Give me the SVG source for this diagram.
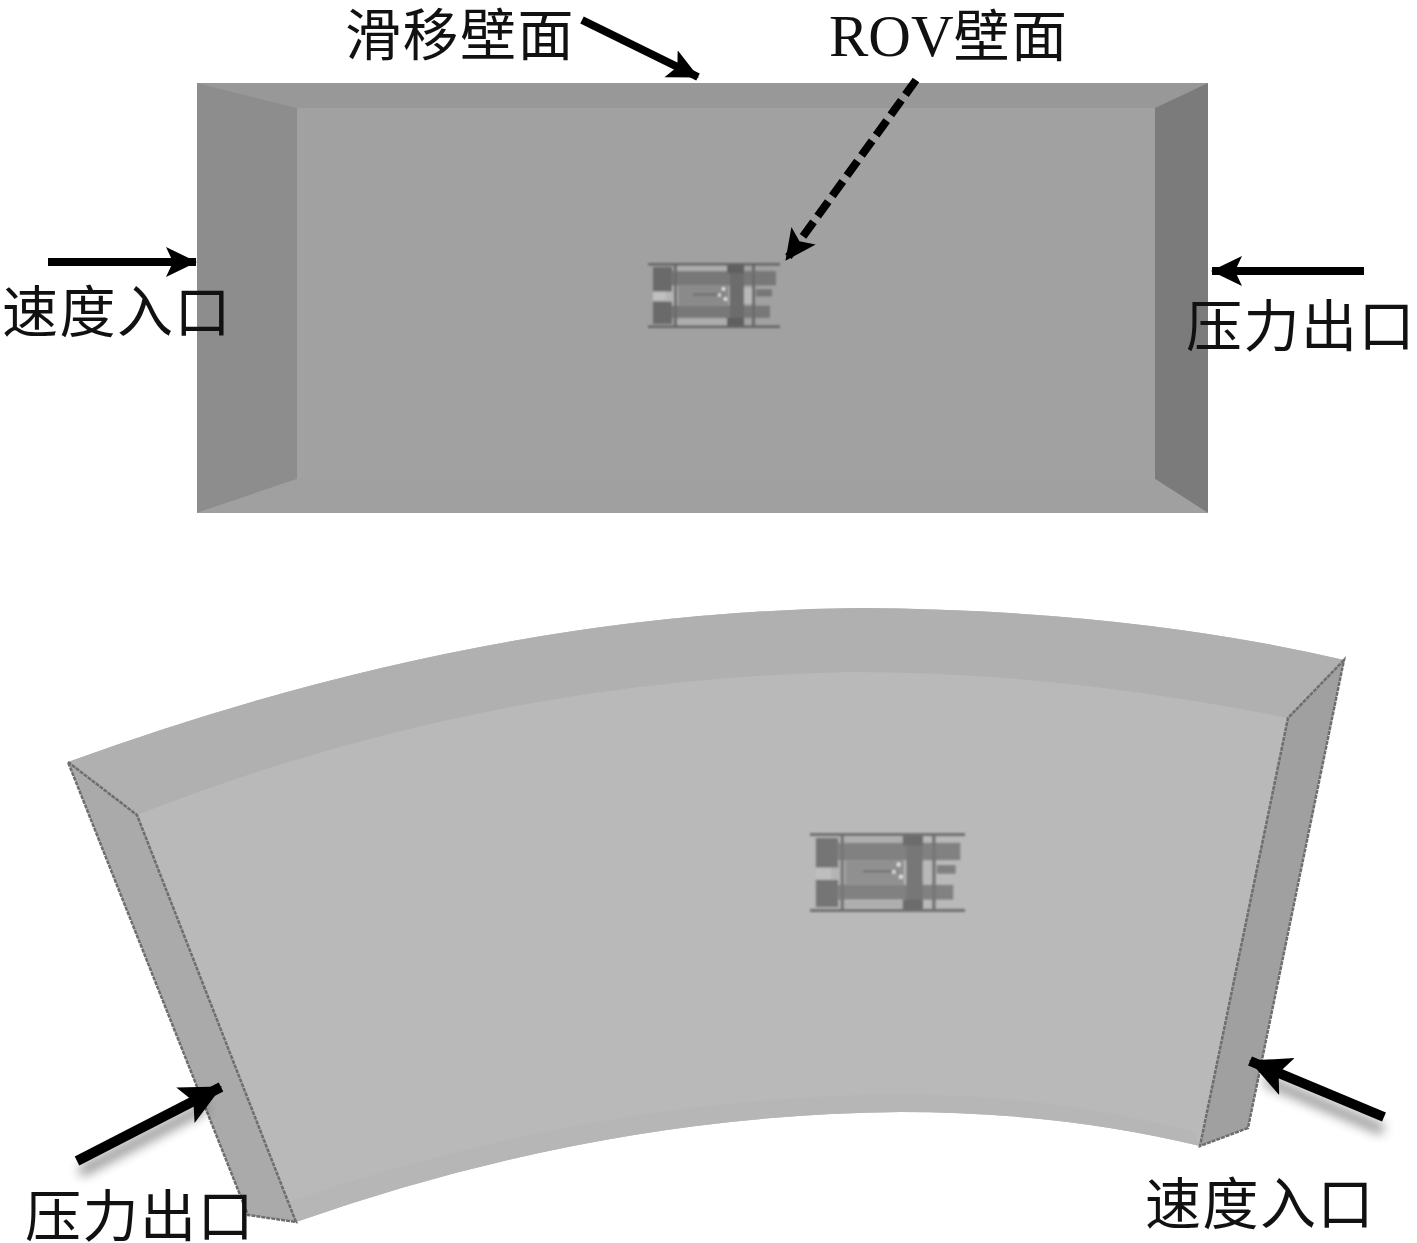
<svg xmlns="http://www.w3.org/2000/svg" width="1417" height="1243" viewBox="0 0 1417 1243">
<style>
.t{font-family:"Noto Sans CJK SC","Liberation Serif",serif;font-size:56px;letter-spacing:1.5px;fill:#111}
.r{font-family:"Liberation Serif",serif;font-size:59px;fill:#111}
.a{fill:none;stroke:#000;stroke-width:8;marker-end:url(#h)}
.b{fill:none;stroke:#000;stroke-width:10;marker-end:url(#k)}
.e{fill:none;stroke:#6e6e6e;stroke-width:2.5;stroke-dasharray:4 1}
</style>
<defs>
<marker id="h" markerUnits="userSpaceOnUse" markerWidth="34" markerHeight="32" refX="30" refY="15" orient="auto"><path d="M0 0L31 15L0 30L7 15Z" fill="#000"/></marker>
<marker id="k" markerUnits="userSpaceOnUse" markerWidth="44" markerHeight="42" refX="40" refY="20" orient="auto"><path d="M0 0L41 20L0 40L9 20Z" fill="#000"/></marker>
<filter id="s" x="-30%" y="-30%" width="160%" height="170%"><feGaussianBlur stdDeviation="6"/></filter>
<filter id="b" x="-5%" y="-5%" width="110%" height="110%"><feGaussianBlur stdDeviation="0.8"/></filter>
<symbol id="rov" viewBox="0 0 132 64" overflow="visible" preserveAspectRatio="none">
<rect x="29" y="3" width="50" height="6" fill="#adadad"/><rect x="29" y="55" width="50" height="6" fill="#adadad"/>
<rect x="5" y="28" width="13" height="9" fill="#c0c0c0"/><rect x="18" y="20" width="12" height="25" fill="#b4b4b4"/>
<rect x="95" y="24" width="9" height="16" fill="#b8b8b8"/><rect x="24" y="8" width="104" height="14" fill="#787878"/>
<rect x="24" y="42" width="98" height="12" fill="#787878"/><rect x="30" y="22" width="50" height="20" fill="#8a8a8a"/>
<rect x="5" y="4" width="19" height="24" fill="#6a6a6a"/><rect x="5" y="38" width="19" height="22" fill="#6a6a6a"/>
<rect x="82" y="3" width="14" height="58" fill="#6c6c6c"/><rect x="79" y="2" width="17" height="8" fill="#5e5e5e"/>
<rect x="79" y="54" width="17" height="8" fill="#5e5e5e"/><rect x="26" y="0" width="3" height="64" fill="#6c6c6c"/>
<rect x="104" y="0" width="3" height="64" fill="#6c6c6c"/><rect x="0" y="0" width="132" height="2.5" fill="#666"/>
<rect x="0" y="61.5" width="132" height="2.5" fill="#666"/><rect x="45" y="30" width="30" height="2" fill="#6c6c6c"/>
<rect x="74" y="24" width="3" height="3" fill="#eee"/><rect x="70" y="30" width="3" height="3" fill="#ddd"/>
<rect x="76" y="34" width="3" height="3" fill="#eee"/><rect x="108" y="26" width="16" height="7" fill="#777"/>
</symbol>
</defs>

<g id="top-domain">
<rect x="197" y="83" width="1011" height="430" fill="#a1a1a1"/>
<polygon points="197,83 1208,83 1155,108 297,108" fill="#989898"/>
<polygon points="197,83 297,108 297,479 197,513" fill="#8d8d8d"/>
<polygon points="1208,83 1155,108 1155,479 1208,513" fill="#7b7b7b"/>
<polygon points="197,513 297,479 1155,479 1208,513" fill="#a0a0a0"/>
<use href="#rov" x="648" y="263" width="132" height="65" filter="url(#b)"/>
</g>

<g id="bottom-domain">
<path d="M68 762Q480 612 860 608Q1130 610 1344 660L1288 718L1200 1146Q1060 1112 900 1112Q600 1115 296 1222L137 815Z" fill="#b9b9b9"/>
<path d="M68 762Q480 612 860 608Q1130 610 1344 660L1288 718Q1060 672 850 672Q480 680 137 815Z" fill="#b0b0b0"/>
<path d="M296 1222Q600 1115 900 1112Q1060 1112 1200 1146L1193 1132Q1060 1096 900 1094Q590 1098 288 1202Z" fill="#b6b6b6"/>
<polygon points="68,762 137,815 296,1222 248,1215" fill="#aaa"/>
<polygon points="1344,660 1288,718 1200,1146 1248,1128" fill="#a0a0a0"/>
<path class="e" d="M68 762L137 815L296 1222L248 1215Z"/>
<path class="e" d="M1344 660L1288 718L1200 1146L1248 1128Z"/>
<use href="#rov" x="810" y="833" width="155" height="79" opacity=".85" filter="url(#b)"/>
</g>

<g id="connectors">
<path d="M80 1172L205 1107" fill="none" stroke="#000" stroke-width="10" opacity=".45" filter="url(#s)"/>
<path d="M1383 1130L1265 1080" fill="none" stroke="#000" stroke-width="10" opacity=".45" filter="url(#s)"/>
<path class="a" d="M582 20L698 77"/>
<path class="a" d="M916 80L786 260" stroke-dasharray="18 7"/>
<path class="a" d="M48 262L196 262"/>
<path class="a" d="M1364 271L1212 271"/>
<path class="b" d="M77 1161L221 1087"/>
<path class="b" d="M1384 1117L1250 1061"/>
</g>

<g id="labels">
<text class="t" x="345" y="55">滑移壁面</text>
<text class="r" x="829" y="56">ROV<tspan class="t">壁面</tspan></text>
<text class="t" x="2" y="332">速度入口</text>
<text class="t" x="1186" y="346">压力出口</text>
<text class="t" x="25" y="1236">压力出口</text>
<text class="t" x="1145" y="1224">速度入口</text>
</g>
</svg>
